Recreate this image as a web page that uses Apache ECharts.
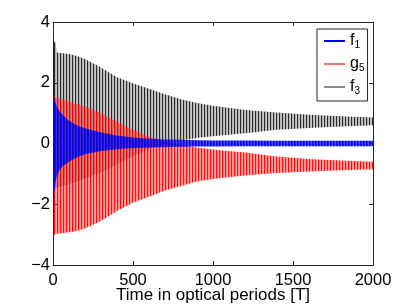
<!DOCTYPE html>
<html><head><meta charset="utf-8">
<script src="https://cdn.jsdelivr.net/npm/echarts@6/dist/echarts.min.js"></script>
<style>html,body{margin:0;padding:0;background:#fff}#c{width:411px;height:305px}</style>
</head><body><div id="c"></div>
<script>
// envelope sample times (optical periods)
const times = [0, 8, 15, 25, 40, 60, 100, 150, 200, 300, 400, 500, 600, 700, 800, 900, 1000, 1200, 1400, 1600, 1800, 2000];
// f1 (blue) upper / lower envelope
const f1Hi = [1.6, 1.5, 1.35, 1.2, 1.07, 0.95, 0.75, 0.6, 0.5, 0.36, 0.26, 0.2, 0.16, 0.13, 0.12, 0.11, 0.1, 0.1, 0.09, 0.09, 0.09, 0.09];
const f1Lo = [-3.2, -1.6, -1.3, -1.05, -0.9, -0.75, -0.6, -0.45, -0.35, -0.25, -0.19, -0.15, -0.13, -0.12, -0.11, -0.1, -0.1, -0.09, -0.09, -0.09, -0.09, -0.09];
// g5 (red) upper / lower envelope
const g5Hi = [1.55, 1.55, 1.52, 1.5, 1.48, 1.45, 1.38, 1.3, 1.22, 1.0, 0.72, 0.45, 0.22, 0.07, -0.04, -0.13, -0.2, -0.3, -0.43, -0.51, -0.56, -0.6];
const g5Lo = [-3.0, -3.0, -3.0, -2.97, -2.96, -2.95, -2.93, -2.88, -2.8, -2.55, -2.22, -1.95, -1.75, -1.55, -1.4, -1.25, -1.17, -1.05, -0.97, -0.92, -0.88, -0.85];
// f3 (black) upper / lower envelope
const f3Hi = [3.0, 3.35, 3.35, 3.0, 2.98, 2.97, 2.95, 2.88, 2.78, 2.5, 2.18, 1.98, 1.8, 1.62, 1.46, 1.33, 1.24, 1.1, 1.02, 0.95, 0.9, 0.86];
const f3Lo = [-1.5, -1.5, -1.5, -1.45, -1.43, -1.4, -1.33, -1.25, -1.15, -0.95, -0.7, -0.42, -0.18, 0.0, 0.1, 0.18, 0.24, 0.34, 0.45, 0.51, 0.56, 0.6];
const legendNames = ['f1', 'g5', 'f3'];
const xTitle = 'Time in optical periods [T]';

function pattern(cols) {
  const c = document.createElement('canvas');
  c.width = cols.length; c.height = 2;
  const ctx = c.getContext('2d');
  cols.forEach((col, i) => { ctx.fillStyle = col; ctx.fillRect(i, 0, 1, 2); });
  return { image: c, repeat: 'repeat' };
}
function band(name, hi, lo, pat, z) {
  return {
    type: 'custom', name: name + ' band', z: z, clip: true, silent: true,
    dimensions: ['t', 'hi', 'lo'],
    encode: { x: 0, y: [1, 2] },
    data: times.map((t, i) => [t, hi[i], lo[i]]),
    renderItem: function (params, api) {
      if (params.dataIndex !== 0) return null;
      const top = times.map((t, i) => api.coord([t, hi[i]]));
      const bot = times.map((t, i) => api.coord([t, lo[i]])).reverse();
      return { type: 'polygon', shape: { points: top.concat(bot) }, style: { fill: pat, stroke: null } };
    }
  };
}
function legendLine(name, color, width) {
  return { type: 'line', name: name, data: [], symbol: 'none', color: color,
           lineStyle: { color: color, width: width } };
}
const axisCol = '#262626';
const font = 'Liberation Sans, Arial, Helvetica, sans-serif';
const minus = v => String(v).replace('-', '\u2212');
function axisBase(extra) {
  return Object.assign({
    type: 'value',
    axisLine: { show: true, onZero: false, lineStyle: { color: axisCol, width: 1 } },
    axisTick: { show: true, inside: true, length: 4, lineStyle: { color: axisCol } },
    splitLine: { show: false }
  }, extra);
}
const chart = echarts.init(document.getElementById('c'), null, { renderer: 'canvas' });
chart.setOption({
  animation: false,
  backgroundColor: '#fff',
  grid: { left: 53, right: 38, top: 22, bottom: 40, containLabel: false, outerBoundsMode: 'none' },
  xAxis: [
    axisBase({ min: 0, max: 2000, interval: 500, position: 'bottom',
      axisLabel: { color: '#000', fontSize: 16.5, fontFamily: font, margin: 7, formatter: v => String(v) },
      name: xTitle, nameLocation: 'middle', nameGap: 22, nameMoveOverlap: false,
      nameTextStyle: { color: '#000', fontSize: 17, fontFamily: font } }),
    axisBase({ min: 0, max: 2000, interval: 500, position: 'top', axisLabel: { show: false } })
  ],
  yAxis: [
    axisBase({ min: -4, max: 4, interval: 2, position: 'left',
      axisLabel: { color: '#000', fontSize: 16.5, fontFamily: font, margin: 3, formatter: minus } }),
    axisBase({ min: -4, max: 4, interval: 2, position: 'right', axisLabel: { show: false } })
  ],
  legend: {
    orient: 'vertical', left: 317, top: 29, padding: [3, 3, 5, 6], itemGap: 5,
    itemWidth: 21, itemHeight: 14, backgroundColor: '#fff', borderColor: axisCol, borderWidth: 1,
    borderRadius: 0, selectedMode: false, z: 10,
    itemStyle: { color: 'rgba(0,0,0,0)', borderWidth: 0, opacity: 0 },
    textStyle: { color: '#000', fontSize: 16, fontFamily: font, lineHeight: 16,
      rich: { s: { fontSize: 10, fontFamily: font, color: '#000', lineHeight: 10, padding: [8, 0, 0, 0] } } },
    formatter: n => n[0] + '{s|' + n.slice(1) + '}',
    data: legendNames
  },
  series: [
    band('f3', f3Hi, f3Lo, pattern(['rgba(20,20,20,0.9)', 'rgba(0,0,0,0.3)', 'rgba(0,0,0,0.22)']), 2),
    band('g5', g5Hi, g5Lo, pattern(['rgba(255,0,0,0.95)', 'rgba(255,0,0,0.45)', 'rgba(255,0,0,0.36)']), 3),
    band('f1', f1Hi, f1Lo, pattern(['rgba(0,0,255,1)', 'rgba(0,0,200,0.85)', 'rgba(0,0,255,0.7)']), 4),
    legendLine('f1', '#0000ff', 2.5),
    legendLine('g5', '#ff7070', 1),
    legendLine('f3', '#8c8c8c', 1)
  ]
});
</script></body></html>
